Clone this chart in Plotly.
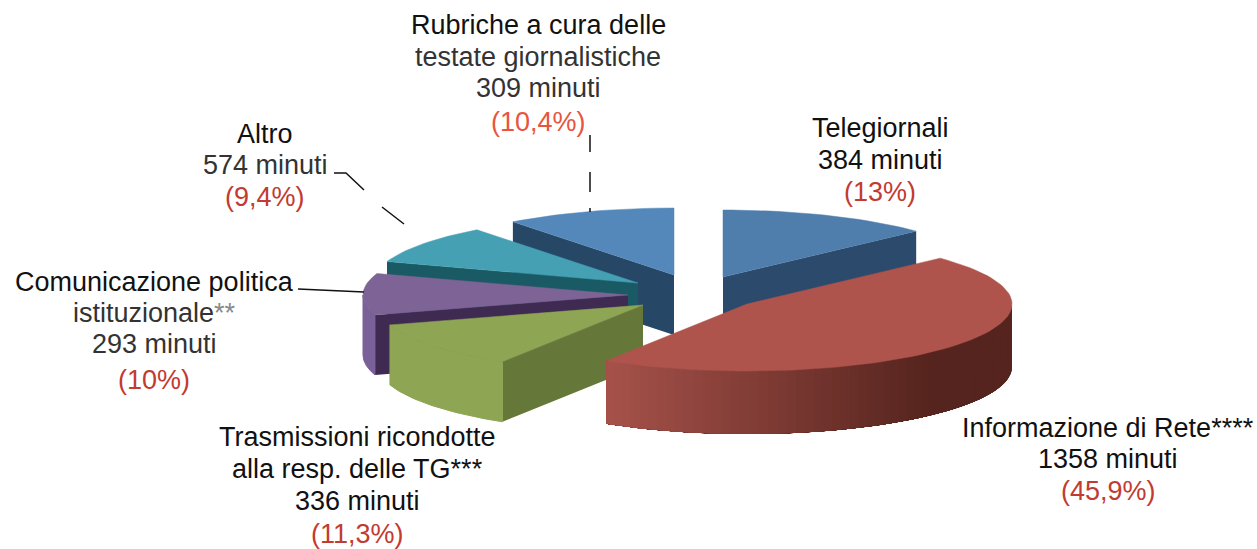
import math
import plotly.graph_objects as go

# --- data -------------------------------------------------------------
CATEGORIES = ["Telegiornali", "Informazione di Rete****",
              "Trasmissioni ricondotte alla resp. delle TG***",
              "Comunicazione politica istituzionale**", "Altro",
              "Rubriche a cura delle testate giornalistiche"]
MINUTES = [384, 1358, 336, 293, 574, 309]
PERCENT = [13, 45.9, 11.3, 10, 9.4, 10.4]

# --- appearance (canvas pixels) ---------------------------------------
W, H = 1257, 549
RX, RY = 265, 67
DEPTH = [60, 63, 60, 60, 60, 60]
CENTRE = [(723, 277), (747, 304), (643, 305), (628, 295), (638, 283), (674, 275)]
TOP = ["#4f7dac", "#ae544c", "#8ea554", "#7e6496", "#45a0b4", "#5488bb"]
SIDE = ["#2b4a6c", "#5a2a24", "#65783a", "#3f2a52", "#1a5a64", "#264766"]
RIM_DARK = ["#3a628a", "#56241e", "#8ea554", "#7a6098", "#1a5a64", "#264766"]
RIM_LIGHT = ["#3a628a", "#a8534b", "#8ea554", "#7a6098", "#1a5a64", "#264766"]
PAINT = [0, 5, 4, 3, 2, 1]
FONT = "Liberation Sans"
FONT_SIZE = 27
BLACK, GREY, RED, ORANGE = "#111111", "#333333", "#c23b30", "#e8553f"


def mix(a, b, t):
    ca = [int(a[i:i + 2], 16) for i in (1, 3, 5)]
    cb = [int(b[i:i + 2], 16) for i in (1, 3, 5)]
    return "#%02x%02x%02x" % tuple(round(p + (q - p) * t) for p, q in zip(ca, cb))


def rim(c, deg):
    r = math.radians(deg)
    return c[0] + RX * math.sin(r), c[1] - RY * math.cos(r)


def poly(fig, pts, colour, edge=0.0):
    fig.add_trace(go.Scatter(x=[p[0] for p in pts] + [pts[0][0]],
                             y=[p[1] for p in pts] + [pts[0][1]],
                             mode="lines", fill="toself", fillcolor=colour,
                             line=dict(color=colour, width=edge),
                             hoverinfo="skip", showlegend=False))


total = sum(PERCENT)
bounds = [0.0]
for v in PERCENT:
    bounds.append(bounds[-1] + 360 * v / total)

fig = go.Figure()
for i in PAINT:
    a, b, c = bounds[i], bounds[i + 1], CENTRE[i]
    d = DEPTH[i]

    def down(p):
        return p[0], p[1] + d

    if 180 < a < 360:
        p = rim(c, a)
        poly(fig, [c, p, down(p), down(c)], SIDE[i])
    if 0 < b < 180:
        p = rim(c, b)
        poly(fig, [c, p, down(p), down(c)], SIDE[i])
    lo, hi = max(a, 90), min(b, 270)
    if hi > lo:
        # each band runs to the far end of the rim, so later bands overlap it without seams
        graded = RIM_DARK[i] != RIM_LIGHT[i]
        n = 60 if graded else 1
        for k in range(n):
            t0 = lo + (hi - lo) * k / n
            arc = [rim(c, t0 + (hi - t0) * s / 40) for s in range(41)]
            x_mid = rim(c, t0)[0]
            shade = min(1.0, max(0.0, (c[0] + 185 - x_mid) / 330))
            poly(fig, arc + [down(q) for q in reversed(arc)],
                 mix(RIM_DARK[i], RIM_LIGHT[i], shade), 0.0 if graded else 1.0)
    steps = max(3, int((b - a) / 2))
    poly(fig, [c] + [rim(c, a + (b - a) * k / steps) for k in range(steps + 1)], TOP[i], 0.5)

# leader lines
LEADERS = [
    ([590, 590, None, 590, 590, None, 590, 590], [135, 152, None, 172, 192, None, 208, 212]),
    ([334, 346, 364, None, 382, 404], [173, 173, 190, None, 207, 224]),
    ([298, 364], [289, 292]),
]
for xs, ys in LEADERS:
    fig.add_trace(go.Scatter(x=xs, y=ys, mode="lines", line=dict(color="#111111", width=1.5),
                             hoverinfo="skip", showlegend=False))


def pct(v):
    return "(" + f"{v:g}".replace(".", ",") + "%)"


def mins(v):
    return f"{v} minuti"


LINES = [
    ("Telegiornali", 880, 128, BLACK),
    (mins(MINUTES[0]), 880, 160, BLACK),
    (pct(PERCENT[0]), 880, 192, RED),
    ("Informazione di Rete****", 1108, 428, BLACK),
    (mins(MINUTES[1]), 1108, 459, BLACK),
    (pct(PERCENT[1]), 1108, 491, RED),
    ("Trasmissioni ricondotte", 357, 437, BLACK),
    ("alla resp. delle TG***", 357, 469, BLACK),
    (mins(MINUTES[2]), 357, 501, BLACK),
    (pct(PERCENT[2]), 357, 534, RED),
    ("Comunicazione politica", 154, 282, BLACK),
    ("istituzionale<span style='color:#888888'>**</span>", 154, 313, GREY),
    (mins(MINUTES[3]), 154, 344, GREY),
    (pct(PERCENT[3]), 154, 380, RED),
    ("Altro", 265, 134, BLACK),
    (mins(MINUTES[4]), 265, 165, GREY),
    (pct(PERCENT[4]), 265, 197, RED),
    ("Rubriche a cura delle", 538, 25, BLACK),
    ("testate giornalistiche", 538, 57, GREY),
    (mins(MINUTES[5]), 538, 88, GREY),
    (pct(PERCENT[5]), 538, 122, ORANGE),
]
for text, x, y, col in LINES:
    fig.add_annotation(x=x, y=y, text=text, showarrow=False, xanchor="center", yanchor="middle",
                       font=dict(family=FONT, size=FONT_SIZE, color=col))

fig.update_layout(width=W, height=H, margin=dict(l=0, r=0, t=0, b=0), autosize=False,
                  paper_bgcolor="white", plot_bgcolor="white", showlegend=False,
                  xaxis=dict(range=[0, W], visible=False, fixedrange=True),
                  yaxis=dict(range=[H, 0], visible=False, fixedrange=True))
fig.write_html("out.html", config={"displayModeBar": False},
               post_script="document.body.style.margin='0';")
